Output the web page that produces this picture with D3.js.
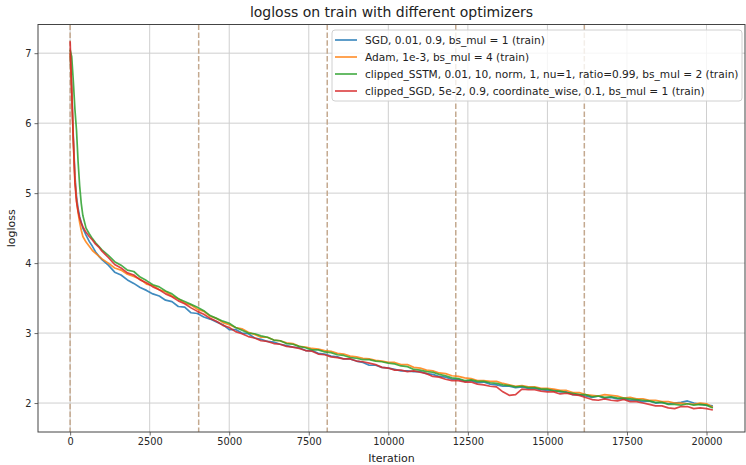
<!DOCTYPE html>
<html>
<head>
<meta charset="utf-8">
<script src="https://cdn.jsdelivr.net/npm/d3@7"></script>
<style>
  body { margin: 0; background: #fff; }
  svg { font-family: "DejaVu Sans", sans-serif; }
  .tick text { fill: #262626; }
</style>
</head>
<body>
<svg id="chart" width="746" height="465"></svg>
<script>
// iterations shared by all four runs
const iters = [0, 50, 100, 150, 200, 250, 300, 350, 400, 500, 600, 700, 800, 900,
  1000, 1200, 1400, 1600, 1800, 2000, 2200, 2400, 2600, 2800, 3000, 3200, 3400, 3600, 3800,
  4000, 4200, 4400, 4600, 4800, 5000, 5200, 5400, 5600, 5800, 6000, 6200, 6400, 6600, 6800,
  7000, 7200, 7400, 7600, 7800, 8000, 8200, 8400, 8600, 8800, 9000, 9200, 9400, 9600, 9800,
  10000, 10200, 10400, 10600, 10800, 11000, 11200, 11400, 11600, 11800, 12000, 12200, 12400,
  12600, 12800, 13000, 13200, 13400, 13600, 13800, 14000, 14200, 14400, 14600, 14800, 15000,
  15200, 15400, 15600, 15800, 16000, 16200, 16400, 16600, 16800, 17000, 17200, 17400, 17600,
  17800, 18000, 18200, 18400, 18600, 18800, 19000, 19200, 19400, 19600, 19800, 20000, 20200];

const sgd = [7.00, 6.50, 5.80, 5.25, 4.95, 4.78, 4.66, 4.58, 4.50, 4.40, 4.31, 4.24, 4.16, 4.10,
  4.05, 3.97, 3.87, 3.83, 3.76, 3.71, 3.65, 3.61, 3.56, 3.53, 3.47, 3.45, 3.38, 3.37, 3.29,
  3.28, 3.23, 3.20, 3.16, 3.12, 3.05, 3.05, 3.00, 2.99, 2.93, 2.91, 2.88, 2.87, 2.84, 2.82,
  2.80, 2.79, 2.75, 2.75, 2.71, 2.70, 2.67, 2.66, 2.63, 2.63, 2.60, 2.58, 2.54, 2.54, 2.51,
  2.50, 2.48, 2.46, 2.46, 2.45, 2.45, 2.42, 2.41, 2.38, 2.37, 2.34, 2.34, 2.31,
  2.32, 2.29, 2.30, 2.27, 2.26, 2.24, 2.24, 2.22, 2.23, 2.21, 2.21, 2.19, 2.18,
  2.19, 2.16, 2.16, 2.12, 2.12, 2.10, 2.08, 2.10, 2.07, 2.08, 2.06, 2.06, 2.04,
  2.04, 2.02, 2.03, 2.00, 2.01, 1.99, 2.00, 2.01, 2.03, 2.00, 1.98, 1.97, 1.96];

const adam = [7.00, 6.45, 5.75, 5.20, 4.90, 4.72, 4.58, 4.47, 4.38, 4.30, 4.24, 4.18, 4.14, 4.10,
  4.06, 4.00, 3.93, 3.90, 3.84, 3.81, 3.77, 3.70, 3.68, 3.62, 3.59, 3.53, 3.49, 3.43, 3.40,
  3.34, 3.31, 3.24, 3.21, 3.15, 3.12, 3.08, 3.06, 3.01, 2.98, 2.94, 2.94, 2.90, 2.89, 2.86,
  2.85, 2.81, 2.80, 2.78, 2.77, 2.75, 2.74, 2.71, 2.70, 2.67, 2.66, 2.64, 2.63, 2.61, 2.60,
  2.58, 2.58, 2.55, 2.55, 2.51, 2.50, 2.47, 2.46, 2.43, 2.42, 2.39, 2.38, 2.36,
  2.35, 2.32, 2.32, 2.31, 2.31, 2.28, 2.26, 2.24, 2.25, 2.23, 2.23, 2.21, 2.21,
  2.20, 2.18, 2.18, 2.15, 2.15, 2.12, 2.11, 2.10, 2.12, 2.11, 2.10, 2.07, 2.08,
  2.06, 2.06, 2.04, 2.04, 2.02, 2.02, 2.00, 2.00, 1.99, 1.98, 2.00, 1.99, 1.94];

const sstm = [7.05, 6.95, 6.60, 6.20, 5.90, 5.45, 5.10, 4.85, 4.68, 4.50, 4.42, 4.35, 4.29, 4.24,
  4.19, 4.11, 4.02, 3.97, 3.90, 3.88, 3.80, 3.75, 3.69, 3.66, 3.60, 3.56, 3.49, 3.45, 3.41,
  3.37, 3.32, 3.25, 3.21, 3.17, 3.14, 3.08, 3.04, 3.00, 2.99, 2.96, 2.94, 2.90, 2.89, 2.85,
  2.84, 2.81, 2.79, 2.76, 2.76, 2.73, 2.72, 2.69, 2.68, 2.65, 2.64, 2.62, 2.62, 2.60, 2.59,
  2.57, 2.56, 2.53, 2.52, 2.48, 2.47, 2.45, 2.44, 2.41, 2.39, 2.36, 2.35, 2.32,
  2.33, 2.31, 2.31, 2.29, 2.28, 2.26, 2.25, 2.23, 2.24, 2.22, 2.22, 2.20, 2.20,
  2.17, 2.17, 2.15, 2.14, 2.12, 2.12, 2.09, 2.10, 2.08, 2.09, 2.07, 2.07, 2.06,
  2.05, 2.04, 2.03, 2.01, 2.01, 1.98, 1.98, 1.97, 1.99, 1.97, 1.98, 1.97, 1.93];

const csgd = [7.17, 6.45, 5.75, 5.15, 4.88, 4.74, 4.64, 4.57, 4.52, 4.44, 4.38, 4.33, 4.27, 4.23,
  4.17, 4.08, 3.98, 3.93, 3.86, 3.83, 3.76, 3.72, 3.66, 3.62, 3.56, 3.52, 3.46, 3.42, 3.36,
  3.31, 3.27, 3.21, 3.17, 3.11, 3.08, 3.02, 2.99, 2.95, 2.93, 2.89, 2.88, 2.85, 2.84, 2.81,
  2.80, 2.78, 2.75, 2.74, 2.70, 2.69, 2.66, 2.65, 2.63, 2.63, 2.60, 2.59, 2.57, 2.55, 2.51,
  2.50, 2.47, 2.47, 2.45, 2.46, 2.44, 2.42, 2.38, 2.37, 2.34, 2.32, 2.32, 2.30,
  2.30, 2.27, 2.26, 2.24, 2.23, 2.16, 2.11, 2.12, 2.20, 2.19, 2.19, 2.17, 2.16,
  2.16, 2.13, 2.14, 2.12, 2.11, 2.08, 2.05, 2.04, 2.06, 2.04, 2.03, 2.05, 2.02,
  2.02, 2.00, 1.98, 1.96, 1.96, 1.93, 1.92, 1.95, 1.95, 1.92, 1.93, 1.92, 1.90];

const series = [
  { name: "SGD, 0.01, 0.9, bs_mul = 1 (train)", values: sgd, color: "#1f77b4" },
  { name: "Adam, 1e-3, bs_mul = 4 (train)", values: adam, color: "#ff7f0e" },
  { name: "clipped_SSTM, 0.01, 10, norm, 1, nu=1, ratio=0.99, bs_mul = 2 (train)", values: sstm, color: "#2ca02c" },
  { name: "clipped_SGD, 5e-2, 0.9, coordinate_wise, 0.1, bs_mul = 1 (train)", values: csgd, color: "#d62728" }
];

// epoch boundaries (dashed)
const epochs = [0, 4040, 8080, 12120, 16160];
const xTicks = [0, 2500, 5000, 7500, 10000, 12500, 15000, 17500, 20000];
const yTicks = [2, 3, 4, 5, 6, 7];

const margin = { top: 24.5, right: 1, bottom: 33, left: 38 },
      width = 746 - margin.left - margin.right,
      height = 465 - margin.top - margin.bottom;

const svg = d3.select("#chart");
const chart = svg.append("g")
  .attr("transform", "translate(" + margin.left + "," + margin.top + ")");

const x = d3.scaleLinear().domain([-1010, 21210]).range([0, width]);
const y = d3.scaleLinear().domain([1.586, 7.41]).range([height, 0]);

// grid
chart.append("g")
  .selectAll("line.gx")
  .data(xTicks).enter().append("line")
  .attr("x1", d => x(d)).attr("x2", d => x(d))
  .attr("y1", 0).attr("y2", height)
  .attr("stroke", "#cfcfcf").attr("stroke-width", 1);
chart.append("g")
  .selectAll("line.gy")
  .data(yTicks).enter().append("line")
  .attr("x1", 0).attr("x2", width)
  .attr("y1", d => y(d)).attr("y2", d => y(d))
  .attr("stroke", "#cfcfcf").attr("stroke-width", 1);

// epoch lines
chart.append("g")
  .selectAll("line")
  .data(epochs).enter().append("line")
  .attr("x1", d => x(d)).attr("x2", d => x(d))
  .attr("y1", 0).attr("y2", height)
  .attr("stroke", "#c4a98f").attr("stroke-width", 1.5)
  .attr("stroke-dasharray", "5.5,2.4");

const line = d3.line()
  .x((d, i) => x(iters[i]))
  .y(d => y(d));

chart.selectAll(".series")
  .data(series).enter().append("path")
  .attr("class", "series")
  .attr("fill", "none")
  .attr("stroke", d => d.color)
  .attr("stroke-width", 1.7)
  .attr("stroke-opacity", 0.85)
  .attr("stroke-linejoin", "round")
  .attr("d", d => line(d.values));

// axes
const xAxis = d3.axisBottom(x).tickValues(xTicks).tickSize(3.5).tickPadding(3).tickFormat(d3.format("d"));
const yAxis = d3.axisLeft(y).tickValues(yTicks).tickSize(3.5).tickPadding(3).tickFormat(d3.format("d"));

const gx = chart.append("g")
  .attr("class", "x axis")
  .attr("transform", "translate(0," + height + ")")
  .call(xAxis);
const gy = chart.append("g")
  .attr("class", "y axis")
  .call(yAxis);

[gx, gy].forEach(g => {
  g.select(".domain").remove();
  g.selectAll(".tick line").attr("stroke", "#444").attr("stroke-width", 0.8);
  g.selectAll(".tick text").attr("font-size", 9.8).attr("font-family", "DejaVu Sans");
});

// frame
chart.append("rect")
  .attr("width", width).attr("height", height)
  .attr("fill", "none").attr("stroke", "#444").attr("stroke-width", 1);

// labels
svg.append("text")
  .attr("x", margin.left + width / 2).attr("y", 17)
  .attr("text-anchor", "middle").attr("font-size", 14).attr("fill", "#222")
  .text("logloss on train with different optimizers");
svg.append("text")
  .attr("x", margin.left + width / 2).attr("y", 462)
  .attr("text-anchor", "middle").attr("font-size", 11).attr("fill", "#222")
  .text("Iteration");
svg.append("text")
  .attr("transform", "translate(15," + (margin.top + height / 2) + ") rotate(-90)")
  .attr("text-anchor", "middle").attr("font-size", 11).attr("fill", "#222")
  .text("logloss");

// legend
const legend = svg.append("g").attr("transform", "translate(332,30)");
legend.append("rect")
  .attr("width", 410).attr("height", 71).attr("rx", 3)
  .attr("fill", "#fff").attr("fill-opacity", 0.8)
  .attr("stroke", "#d0d0d0").attr("stroke-width", 1);
const item = legend.selectAll(".item")
  .data(series).enter().append("g")
  .attr("transform", (d, i) => "translate(0," + (10 + i * 17) + ")");
item.append("line")
  .attr("x1", 3).attr("x2", 25)
  .attr("stroke", d => d.color).attr("stroke-width", 1.7).attr("stroke-opacity", 0.85);
item.append("text")
  .attr("x", 33).attr("y", 3.8)
  .attr("font-size", 10.6).attr("fill", "#222")
  .text(d => d.name);
</script>
</body>
</html>
